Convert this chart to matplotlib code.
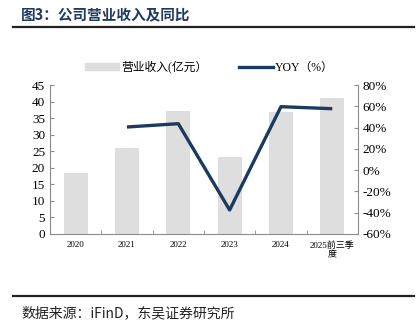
import numpy as np
import matplotlib.pyplot as plt
from matplotlib.lines import Line2D
from matplotlib.patches import Patch

years = ['2020', '2021', '2022', '2023', '2024', '2025前三季\n度']
revenue = [18.5, 25.9, 37.2, 23.2, 36.8, 41.0]
yoy = [np.nan, 40.6, 43.7, -37.4, 59.7, 57.8]

serif_cjk = ['Liberation Serif', 'Noto Sans CJK SC']
cjk_serif = ['Noto Sans CJK SC', 'Liberation Serif']
navy = '#1b3a5e'
spine_c = '#8c8c8c'

fig = plt.figure(figsize=(4.19, 3.35), dpi=100)
ax = fig.add_axes([0.1193, 0.3015, 0.735, 0.4445])
ax2 = ax.twinx()

x = np.arange(len(years))
ax.bar(x, revenue, width=0.47, color='#dedede', zorder=1)
ax2.plot(x, yoy, color=navy, lw=2.4, solid_capstyle='butt', zorder=3)

ax.set_xlim(-0.5, len(years) - 0.5)
ax.set_ylim(0, 45)
ax.set_yticks(np.arange(0, 46, 5))
ax2.set_ylim(-60, 80)
ax2.set_yticks(np.arange(-60, 81, 20))
ax2.set_yticklabels([f'{v}%' for v in range(-60, 81, 20)])

ax.set_xticks(x)
ax.set_xticklabels(years, family=serif_cjk, fontsize=6.5)
ax.set_xticks(np.arange(-0.5, len(years)), minor=True)
ax.tick_params(axis='x', which='major', length=0, pad=5)
ax.tick_params(axis='x', which='minor', direction='in', length=3, color=spine_c)
ax.tick_params(axis='y', direction='in', length=3, color=spine_c, labelsize=9.5)
ax2.tick_params(axis='y', direction='in', length=3, color=spine_c, labelsize=9.5)
for lab in ax.get_yticklabels() + ax2.get_yticklabels():
    lab.set_family('Liberation Serif')

for a in (ax, ax2):
    a.spines['top'].set_visible(False)
    for s in ('left', 'right', 'bottom'):
        a.spines[s].set_color(spine_c)
ax.spines['right'].set_visible(False)
ax2.spines['left'].set_visible(False)
ax2.spines['bottom'].set_visible(False)

handles = [Patch(color='#dedede'), Line2D([], [], color=navy, lw=2.4)]
fig.legend(handles, ['营业收入(亿元）', 'YOY（%）'], loc='center', bbox_to_anchor=(0.5, 0.8),
           ncol=2, frameon=False, prop={'family': serif_cjk, 'size': 8.5},
           handlelength=2.9, handleheight=0.5, columnspacing=2.6, handletextpad=0.2)

fig.text(0.05, 0.958, '图3：公司营业收入及同比', family=cjk_serif, fontsize=10.5,
         fontweight='bold', color='#1f3a60', va='center')
fig.add_artist(Line2D([0.031, 0.988], [0.919, 0.919], color='#222222', lw=1.6))
fig.add_artist(Line2D([0.031, 0.988], [0.116, 0.116], color='#222222', lw=1.6))
fig.text(0.052, 0.066, '数据来源：iFinD，东吴证券研究所', family=cjk_serif, fontsize=10,
         color='#222222', va='center')

fig.savefig('out.png', dpi=100)
